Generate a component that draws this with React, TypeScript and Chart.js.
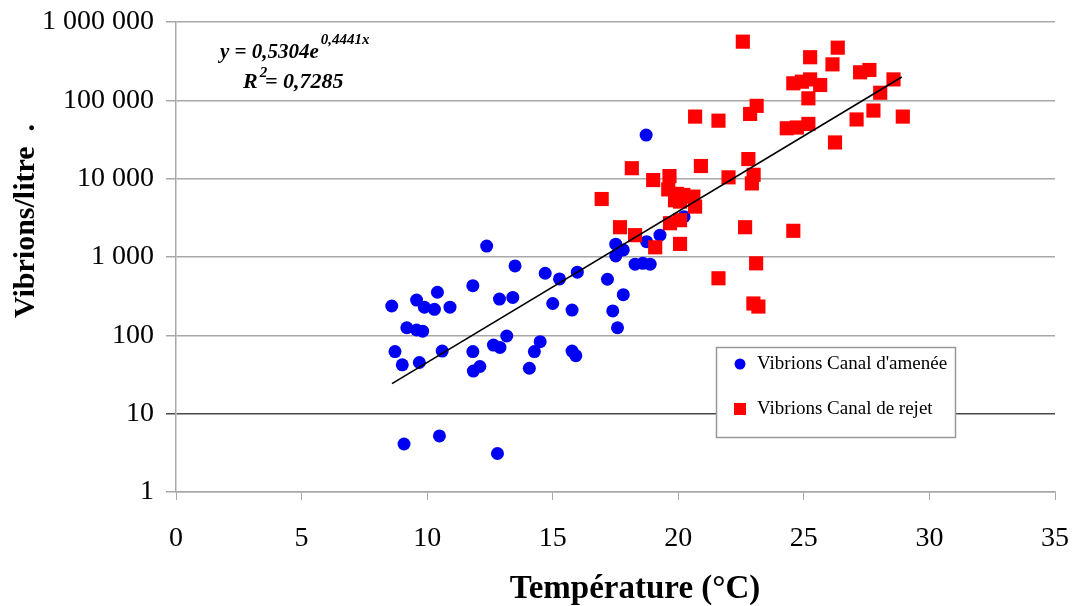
import React, { useEffect, useRef } from "react";
import { Chart, registerables } from "chart.js";

Chart.register(...registerables);

// Temperature (°C) and vibrio counts per litre, intake canal
const INTAKE_TEMP = [
  12.37, 13.5, 14.7, 15.27, 15.98, 17.18, 17.51, 17.51, 17.81, 17.81, 17.39, 17.58,
  18.28, 18.59, 18.88, 18.74, 19.27, 15.0, 15.77, 11.82, 10.41, 12.88, 13.41, 8.59,
  9.58, 9.89, 10.29, 10.91, 9.19, 9.58, 9.82, 8.72, 9.01, 9.69, 10.6, 11.82, 11.84,
  12.1, 12.64, 12.9, 13.17, 14.5, 14.27, 14.07, 15.77, 15.92, 9.08, 10.49, 12.8,
  18.72, 20.23,
];
const INTAKE_COUNT = [
  1380, 770, 620, 525, 640, 520, 1460, 1030, 1230, 330, 205, 125,
  810, 830, 810, 1570, 1900, 255, 210, 430, 355, 290, 305, 237,
  282, 229, 215, 229, 125, 117, 113, 62, 42, 45, 63, 62, 35,
  40, 75, 70, 98, 83, 62, 38, 63, 55, 4.1, 5.2, 3.1,
  36000, 3270,
];

// Temperature (°C) and vibrio counts per litre, discharge canal
const DISCHARGE_TEMP = [
  22.57, 26.35, 25.25, 26.14, 27.24, 27.61, 28.57, 24.58, 24.92, 25.25, 25.65, 25.18,
  28.04, 27.77, 27.1, 28.94, 23.12, 22.86, 20.67, 21.6, 24.32, 24.72, 25.18, 26.24,
  18.15, 20.9, 22.79, 22.0, 23.0, 22.93, 19.0, 19.65, 19.6, 19.94, 20.2, 20.6,
  19.87, 20.67, 20.07, 19.67, 20.07, 16.95, 17.68, 18.28, 19.08, 20.07, 22.66, 24.58,
  23.1, 21.6, 22.99, 23.19,
];
const DISCHARGE_COUNT = [
  561000, 470000, 355000, 288000, 228000, 244000, 185000, 165000, 173000, 185000, 157000, 106000,
  125000, 74000, 57000, 62000, 85000, 67000, 62000, 55000, 44000, 45000, 50000, 29000,
  13600, 14500, 17800, 10400, 11200, 8700, 9600, 10800, 7300, 6400, 6200, 5900,
  5300, 4400, 5100, 2700, 2950, 5500, 2400, 1900, 1330, 1470, 2400, 2160,
  830, 535, 255, 233,
];

// Exponential fit y = A·e^(B·x), drawn over the measured temperature range
const FIT_A = 0.5304;
const FIT_B = 0.4441;
const FIT_R2 = "0,7285";
const FIT_X = [8.6, 28.9];

const X_TICKS = [0, 5, 10, 15, 20, 25, 30, 35];
const Y_TICKS = [1, 10, 100, 1000, 10000, 100000, 1000000];
const Y_TICK_LABELS = ["1", "10", "100", "1 000", "10 000", "100 000", "1 000 000"];

const LABEL_INTAKE = "Vibrions Canal d'amenée";
const LABEL_DISCHARGE = "Vibrions Canal de rejet";
const X_TITLE = "Température (°C)";
const Y_TITLE = "Vibrions/litre  .";

const SERIF = "'Liberation Serif', 'Times New Roman', serif";
const BLUE = "#0000f2";
const RED = "#ff0000";
const GRID = "#a8a8a8";

const zip = (xs: number[], ys: number[]) => xs.map((x, i) => ({ x, y: ys[i] }));

// Axis titles, fit equation and the boxed legend inside the plot
const annotations = {
  id: "annotations",
  afterDraw(chart: any) {
    const ctx = chart.ctx as CanvasRenderingContext2D;
    ctx.save();
    ctx.fillStyle = "#000";

    // y title
    ctx.save();
    ctx.translate(26, 221);
    ctx.rotate(-Math.PI / 2);
    ctx.font = `bold 30px ${SERIF}`;
    ctx.textAlign = "center";
    ctx.textBaseline = "middle";
    ctx.fillText(Y_TITLE, 0, 0);
    ctx.restore();

    // x title
    ctx.font = `bold 33px ${SERIF}`;
    ctx.textAlign = "center";
    ctx.textBaseline = "middle";
    ctx.fillText(X_TITLE, 635, 589);

    // fit equation
    ctx.textAlign = "left";
    ctx.textBaseline = "alphabetic";
    const main = `y = ${String(FIT_A).replace(".", ",")}e`;
    ctx.font = `italic bold 21px ${SERIF}`;
    ctx.fillText(main, 220, 58);
    const w1 = ctx.measureText(main).width;
    ctx.font = `italic bold 15px ${SERIF}`;
    ctx.fillText(`${String(FIT_B).replace(".", ",")}x`, 220 + w1 + 2, 44);

    ctx.font = `italic bold 22px ${SERIF}`;
    ctx.fillText("R", 243, 88);
    const wr = ctx.measureText("R").width;
    ctx.font = `italic bold 15px ${SERIF}`;
    ctx.fillText("2", 243 + wr + 2, 77);
    ctx.font = `italic bold 22px ${SERIF}`;
    ctx.fillText(`= ${FIT_R2}`, 265, 88);

    // legend box
    ctx.fillStyle = "#fff";
    ctx.fillRect(716, 347, 239, 90);
    ctx.strokeStyle = "#999";
    ctx.lineWidth = 1.5;
    ctx.strokeRect(716.5, 347.5, 239, 90);

    ctx.fillStyle = BLUE;
    ctx.beginPath();
    ctx.arc(740, 364, 5.5, 0, Math.PI * 2);
    ctx.fill();
    ctx.fillStyle = RED;
    ctx.fillRect(734, 403, 12, 12);

    ctx.fillStyle = "#000";
    ctx.font = `19px ${SERIF}`;
    ctx.textBaseline = "middle";
    ctx.fillText(LABEL_INTAKE, 757, 364);
    ctx.fillText(LABEL_DISCHARGE, 757, 409);
    ctx.restore();
  },
};

export default function App() {
  const canvasRef = useRef<HTMLCanvasElement | null>(null);

  useEffect(() => {
    if (!canvasRef.current) return;
    const chart = new Chart(canvasRef.current, {
      type: "scatter",
      data: {
        datasets: [
          {
            label: "fit",
            data: FIT_X.map((x) => ({ x, y: FIT_A * Math.exp(FIT_B * x) })),
            showLine: true,
            borderColor: "#000",
            borderWidth: 1.6,
            pointRadius: 0,
            order: 0,
          },
          {
            label: LABEL_INTAKE,
            data: zip(INTAKE_TEMP, INTAKE_COUNT),
            pointStyle: "circle",
            pointRadius: 6.5,
            pointBorderWidth: 0,
            backgroundColor: BLUE,
            borderColor: BLUE,
            order: 2,
          },
          {
            label: LABEL_DISCHARGE,
            data: zip(DISCHARGE_TEMP, DISCHARGE_COUNT),
            pointStyle: "rect",
            pointRadius: 10,
            pointBorderWidth: 0,
            backgroundColor: RED,
            borderColor: RED,
            order: 1,
          },
        ],
      },
      options: {
        responsive: false,
        animation: false,
        layout: { padding: { left: 0, right: 28, top: 22, bottom: 0 } },
        plugins: { legend: { display: false }, tooltip: { enabled: false } },
        scales: {
          x: {
            type: "linear",
            min: 0,
            max: 35,
            afterBuildTicks: (scale: any) => {
              scale.ticks = X_TICKS.map((value) => ({ value }));
            },
            afterFit: (scale: any) => {
              scale.height = 114;
            },
            ticks: {
              color: "#000",
              padding: 13,
              font: { family: SERIF, size: 28, lineHeight: 1.8 },
              maxRotation: 0,
            },
            grid: { drawOnChartArea: false, drawTicks: true, tickLength: 8, color: GRID },
            border: { color: GRID, width: 1.5 },
          },
          y: {
            type: "logarithmic",
            min: 1,
            max: 1000000,
            afterBuildTicks: (scale: any) => {
              scale.ticks = Y_TICKS.map((value) => ({ value }));
            },
            afterFit: (scale: any) => {
              scale.width = 176;
            },
            ticks: {
              color: "#000",
              padding: 12,
              font: { family: SERIF, size: 28, lineHeight: 0.7 },
              callback: (value: any) => {
                const i = Y_TICKS.indexOf(Number(value));
                return i >= 0 ? Y_TICK_LABELS[i] : "";
              },
            },
            grid: {
              drawTicks: true,
              tickLength: 10,
              lineWidth: 1.5,
              color: (c: any) => (c.tick && c.tick.value === 10 ? "#4a4a4a" : GRID),
            },
            border: { color: GRID, width: 1.5 },
          },
        },
      },
      plugins: [annotations],
    } as any);
    return () => chart.destroy();
  }, []);

  return (
    <div style={{ position: "absolute", left: 0, top: 0, width: 1083, height: 606, background: "#fff" }}>
      <canvas ref={canvasRef} width={1083} height={606} />
    </div>
  );
}
